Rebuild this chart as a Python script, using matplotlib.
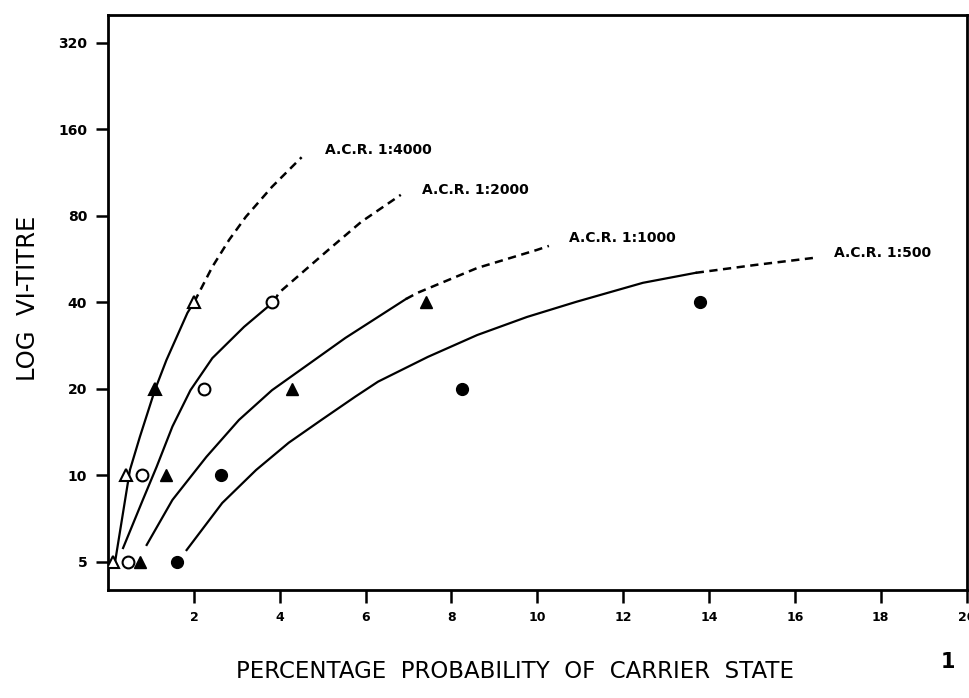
import matplotlib
matplotlib.use('Agg')
import matplotlib.pyplot as plt
from matplotlib.ticker import NullLocator

# y axis ticks (log scale, doubling)
y_ticks = [5, 10, 20, 40, 80, 160, 320]
x_ticks = [2, 4, 6, 8, 10, 12, 14, 16, 18, 20]

# observed points: A.C.R. 1:4000 (open triangles, the 20-point is drawn filled)
acr4000_x = [0.12, 0.42, 1.10, 2.00]
acr4000_y = [5, 10, 20, 40]
acr4000_filled = [False, False, True, False]
# A.C.R. 1:2000 (open circles)
acr2000_x = [0.46, 0.79, 2.24, 3.81]
acr2000_y = [5, 10, 20, 40]
# A.C.R. 1:1000 (filled triangles)
acr1000_x = [0.74, 1.36, 4.28, 7.40]
acr1000_y = [5, 10, 20, 40]
# A.C.R. 1:500 (filled circles)
acr500_x = [1.60, 2.64, 8.25, 13.80]
acr500_y = [5, 10, 20, 40]

# fitted curves: solid part then dashed extrapolation
c4000_x = [0.16, 0.51, 0.74, 1.09, 1.36, 1.85, 2.01]
c4000_y = [4.96, 10.45, 13.6, 19.8, 25.2, 36.8, 40.2]
c4000_dx = [2.01, 2.43, 2.82, 3.21, 3.82, 4.51]
c4000_dy = [40.2, 53.2, 66.0, 79.4, 101, 128]

c2000_x = [0.35, 0.81, 1.13, 1.50, 1.92, 2.43, 3.17, 3.86]
c2000_y = [5.59, 8.22, 10.7, 14.8, 19.8, 25.6, 32.9, 40.2]
c2000_dx = [3.86, 3.98, 5.13, 5.90, 6.82]
c2000_dy = [40.2, 43.2, 60.9, 76.3, 94.7]

c1000_x = [0.90, 1.50, 2.29, 3.05, 3.82, 4.74, 5.53, 6.29, 6.94]
c1000_y = [5.73, 8.22, 11.6, 15.6, 19.8, 24.8, 30.1, 35.6, 41.1]
c1000_dx = [6.94, 7.21, 8.60, 9.99, 10.27]
c1000_dy = [41.1, 43.2, 52.7, 60.9, 62.9]

c500_x = [1.83, 2.66, 3.45, 4.21, 4.97, 5.76, 6.29, 7.45, 8.60, 9.76, 10.91,
          12.46, 13.69]
c500_y = [5.50, 8.02, 10.45, 13.0, 15.6, 18.8, 21.2, 25.85, 30.8, 35.6, 40.2,
          46.8, 50.7]
c500_dx = [13.69, 15.08, 16.42]
c500_dy = [50.7, 54.0, 57.1]

labels = ['A.C.R. 1:4000', 'A.C.R. 1:2000', 'A.C.R. 1:1000', 'A.C.R. 1:500']
label_x = [5.06, 7.31, 10.73, 16.92]
label_y = [135.8, 98.5, 67.1, 59.5]


fig = plt.figure(figsize=(9.69, 6.98), dpi=100)
ax = fig.add_axes([0.1115, 0.155, 0.886, 0.8235])

dash = (0, (3.3, 2.2))
for sx, sy, dx, dy in [(c4000_x, c4000_y, c4000_dx, c4000_dy),
                       (c2000_x, c2000_y, c2000_dx, c2000_dy),
                       (c1000_x, c1000_y, c1000_dx, c1000_dy),
                       (c500_x, c500_y, c500_dx, c500_dy)]:
    ax.plot(sx, sy, color='black', lw=1.6, solid_joinstyle='round')
    ax.plot(dx, dy, color='black', lw=1.8, linestyle=dash)

ms = 8.5
for x, y, f in zip(acr4000_x, acr4000_y, acr4000_filled):
    ax.plot(x, y, marker='^', ms=ms, mec='black', mew=1.5,
            mfc='black' if f else 'white', linestyle='none', zorder=3)
ax.plot(acr2000_x, acr2000_y, 'o', ms=ms, mec='black', mew=1.5, mfc='white', zorder=3)
ax.plot(acr1000_x, acr1000_y, '^', ms=ms, mec='black', mfc='black', zorder=3)
ax.plot(acr500_x, acr500_y, 'o', ms=ms, mec='black', mfc='black', zorder=3)

for t, x, y in zip(labels, label_x, label_y):
    ax.text(x, y, t, fontsize=10, fontweight='bold', ha='left', va='center')

ax.set_yscale('log')
ax.set_xlim(0, 19.85)
ax.set_ylim(4.0, 400)
ax.set_yticks(y_ticks)
ax.set_yticklabels([str(v) for v in y_ticks], fontsize=10, fontweight='bold')
ax.yaxis.set_minor_locator(NullLocator())
ax.set_xticks(x_ticks)
ax.set_xticklabels([str(v) for v in x_ticks], fontsize=9, fontweight='bold')
ax.tick_params(axis='both', direction='out', length=9, width=1.8, pad=6)
for s in ax.spines.values():
    s.set_linewidth(2)

fig.text(0.531, 0.021, 'PERCENTAGE  PROBABILITY  OF  CARRIER  STATE',
         fontsize=16.5, ha='center', va='bottom')
fig.text(0.029, 0.573, 'LOG  VI-TITRE', fontsize=17.5, rotation=90,
         ha='center', va='center')
fig.text(0.978, 0.052, '1', fontsize=15, fontweight='bold', ha='center', va='center')

fig.savefig('out.png', dpi=100, facecolor='white')
